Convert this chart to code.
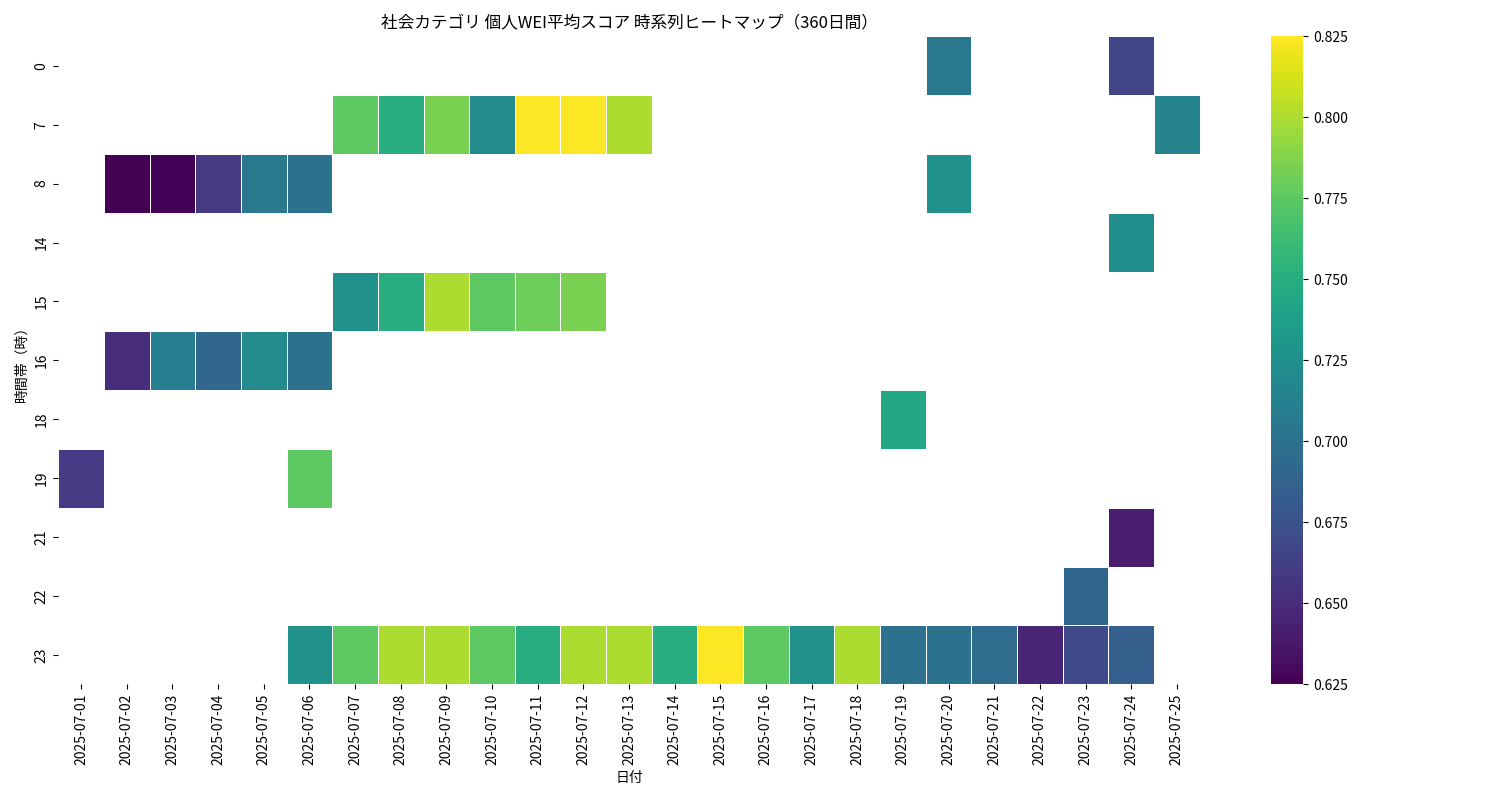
import numpy as np, pandas as pd, seaborn as sns, matplotlib
matplotlib.use("Agg")
import matplotlib.pyplot as plt
plt.rcParams["font.family"] = "Noto Sans CJK JP"

dates = [f"2025-07-{d:02d}" for d in range(1, 26)]
hours = [0, 7, 8, 14, 15, 16, 18, 19, 21, 22, 23]
row_0 = {"2025-07-20": 0.705, "2025-07-24": 0.665}
row_7 = {"2025-07-07": 0.775, "2025-07-08": 0.75, "2025-07-09": 0.785, "2025-07-10": 0.72,
         "2025-07-11": 0.825, "2025-07-12": 0.824, "2025-07-13": 0.80, "2025-07-25": 0.715}
row_8 = {"2025-07-02": 0.625, "2025-07-03": 0.626, "2025-07-04": 0.66, "2025-07-05": 0.705,
         "2025-07-06": 0.70, "2025-07-20": 0.725}
row_14 = {"2025-07-24": 0.723}
row_15 = {"2025-07-07": 0.725, "2025-07-08": 0.75, "2025-07-09": 0.80, "2025-07-10": 0.775,
          "2025-07-11": 0.78, "2025-07-12": 0.785}
row_16 = {"2025-07-02": 0.65, "2025-07-03": 0.71, "2025-07-04": 0.69, "2025-07-05": 0.72,
          "2025-07-06": 0.70}
row_18 = {"2025-07-19": 0.745}
row_19 = {"2025-07-01": 0.66, "2025-07-06": 0.775}
row_21 = {"2025-07-24": 0.64}
row_22 = {"2025-07-23": 0.69}
row_23 = {"2025-07-06": 0.725, "2025-07-07": 0.775, "2025-07-08": 0.80, "2025-07-09": 0.80,
          "2025-07-10": 0.775, "2025-07-11": 0.75, "2025-07-12": 0.80, "2025-07-13": 0.80,
          "2025-07-14": 0.75, "2025-07-15": 0.825, "2025-07-16": 0.775, "2025-07-17": 0.725,
          "2025-07-18": 0.80, "2025-07-19": 0.70, "2025-07-20": 0.70, "2025-07-21": 0.695,
          "2025-07-22": 0.645, "2025-07-23": 0.67, "2025-07-24": 0.685}
rows = [row_0, row_7, row_8, row_14, row_15, row_16, row_18, row_19, row_21, row_22, row_23]

df = pd.DataFrame([[r.get(d, np.nan) for d in dates] for r in rows], index=hours, columns=dates)

fig, ax = plt.subplots(figsize=(15, 8), dpi=100)
sns.heatmap(df, cmap="viridis", linewidths=0.5, linecolor="white", ax=ax, vmin=0.625, vmax=0.825)
ax.set_title("社会カテゴリ 個人WEI平均スコア 時系列ヒートマップ（360日間）")
ax.set_xlabel("日付")
ax.set_ylabel("時間帯（時）")
plt.tight_layout()
fig.savefig("out.png")
